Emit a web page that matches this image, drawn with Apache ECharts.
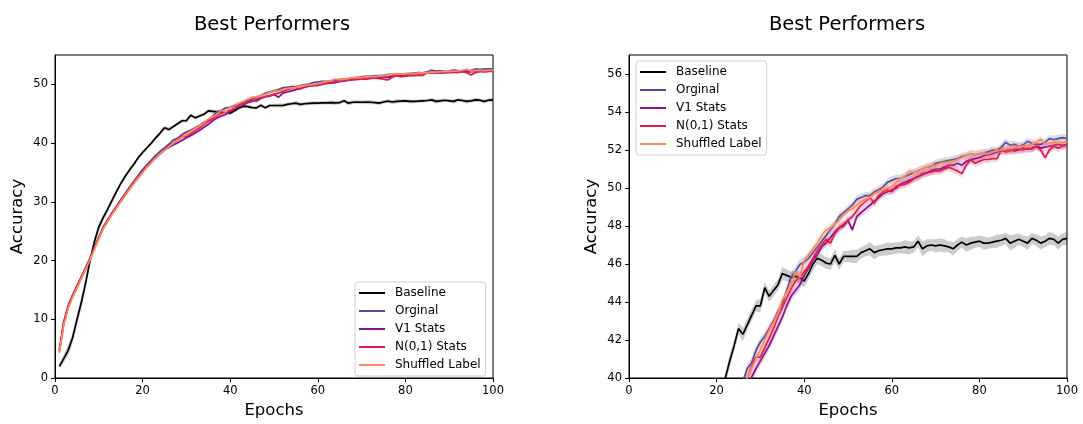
<!DOCTYPE html>
<html>
<head>
<meta charset="utf-8">
<script src="https://cdn.jsdelivr.net/npm/echarts@6/dist/echarts.min.js"></script>
<style>
html,body{margin:0;padding:0;background:#fff;}
#chart{width:1083px;height:424px;}
</style>
</head>
<body>
<div id="chart"></div>
<script>
const seriesNames = ['Baseline', 'Orginal', 'V1 Stats', 'N(0,1) Stats', 'Shuffled Label'];
const titleText = 'Best Performers';
const xTicks = [0, 20, 40, 60, 80, 100];
const yTicksLeft = [0, 10, 20, 30, 40, 50];
const yTicksRight = [40, 42, 44, 46, 48, 50, 52, 54, 56];

const baseline = [
 2.0, 3.3, 4.7, 6.8, 9.9, 12.8, 16.2, 20.0, 23.2, 25.7,
 27.3, 28.7, 30.2, 31.7, 33.1, 34.3, 35.4, 36.4, 37.5, 38.4,
 39.2, 40.0, 40.9, 41.7, 42.6, 42.3, 42.8, 43.3, 43.8, 43.8,
 44.75, 44.3, 44.6, 44.9, 45.5, 45.4, 45.3, 45.35, 45.3, 45.1,
 45.5, 46.0, 46.3, 46.2, 46.05, 46.0, 46.45, 46.0, 46.4, 46.4,
 46.4, 46.4, 46.6, 46.7, 46.8, 46.6, 46.7, 46.75, 46.8, 46.8,
 46.85, 46.85, 46.9, 46.85, 46.9, 47.2, 46.8, 46.95, 47.0, 46.95,
 47.0, 46.95, 46.9, 46.8, 47.0, 47.15, 47.0, 47.1, 47.15, 47.2,
 47.1, 47.1, 47.15, 47.2, 47.25, 47.35, 47.1, 47.2, 47.3, 47.2,
 47.1, 47.35, 47.25, 47.1, 47.2, 47.35, 47.3, 47.1, 47.3, 47.35
];
const orginal = [
 4.8, 9.5, 12.2, 14.0, 15.6, 17.2, 18.8, 20.4, 22.2, 24.0,
 25.7, 26.9, 28.1, 29.2, 30.3, 31.4, 32.5, 33.5, 34.5, 35.5,
 36.3, 37.1, 37.9, 38.6, 39.2, 39.8, 40.5, 40.8, 41.45, 41.9,
 42.2, 42.6, 43.0, 43.5, 43.9, 44.6, 45.3, 45.6, 45.97, 46.1,
 46.3, 46.6, 46.9, 47.2, 47.5, 47.8, 48.1, 48.5, 48.7, 48.9,
 49.1, 49.4, 49.5, 49.6, 49.6, 49.8, 49.9, 50.06, 50.3, 50.4,
 50.5, 50.5, 50.6, 50.7, 50.8, 50.9, 51.0, 51.1, 51.15, 51.3,
 51.35, 51.4, 51.45, 51.5, 51.55, 51.65, 51.7, 51.8, 51.75, 51.8,
 51.85, 51.9, 52.0, 51.95, 52.15, 52.4, 52.25, 52.3, 52.2, 52.27,
 52.45, 52.35, 52.3, 52.3, 52.4, 52.6, 52.55, 52.6, 52.65, 52.6
];
const v1Stats = [
 4.5, 9.2, 12.0, 13.9, 15.4, 17.0, 18.5, 20.2, 22.0, 23.8,
 25.5, 26.7, 27.9, 29.0, 30.1, 31.1, 32.2, 33.2, 34.1, 35.1,
 36.0, 36.8, 37.5, 38.2, 38.8, 39.3, 39.7, 40.05, 40.5, 40.9,
 41.3, 41.7, 42.2, 42.7, 43.2, 43.8, 44.3, 44.6, 44.9, 45.4,
 45.8, 46.2, 46.5, 46.9, 47.1, 47.4, 47.7, 47.9, 48.0, 48.3,
 47.8, 48.5, 48.7, 48.9, 49.1, 49.3, 49.5, 49.7, 49.8, 49.9,
 50.0, 50.2, 50.3, 50.4, 50.5, 50.6, 50.7, 50.8, 50.9, 51.0,
 51.0, 51.1, 51.2, 51.2, 51.3, 51.2, 51.4, 51.5, 51.55, 51.6,
 51.7, 51.75, 51.8, 51.9, 51.95, 52.0, 52.0, 51.95, 52.0, 52.1,
 52.05, 52.1, 52.2, 52.1, 52.15, 52.2, 52.25, 52.3, 52.25, 52.3
];
const n01Stats = [
 4.6, 9.6, 12.3, 14.1, 15.7, 17.2, 18.7, 20.3, 22.1, 23.9,
 25.6, 26.8, 28.0, 29.1, 30.2, 31.2, 32.3, 33.3, 34.3, 35.2,
 36.1, 36.9, 37.6, 38.3, 38.9, 39.5, 40.0, 40.6, 41.1, 41.1,
 41.6, 42.1, 42.6, 43.2, 43.7, 44.2, 44.7, 45.1, 45.3, 45.6,
 45.9, 46.3, 46.7, 47.0, 47.3, 47.1, 47.6, 47.9, 48.1, 48.3,
 48.5, 48.8, 49.1, 49.3, 49.5, 49.2, 49.6, 49.8, 49.9, 49.8,
 50.1, 50.15, 50.2, 50.3, 50.5, 50.6, 50.76, 50.8, 50.85, 50.9,
 50.9, 51.0, 51.1, 51.0, 50.9, 50.76, 51.2, 51.5, 51.3, 51.4,
 51.5, 51.5, 51.55, 51.54, 52.0, 51.9, 51.95, 52.05, 52.05, 52.0,
 52.1, 52.05, 52.2, 52.0, 51.6, 52.0, 52.2, 52.1, 52.2, 52.25
];
const shuffledLabel = [
 4.3, 9.0, 11.8, 13.7, 15.3, 16.9, 18.5, 20.1, 21.9, 23.7,
 25.4, 26.6, 27.8, 28.9, 30.0, 31.1, 32.1, 33.1, 34.1, 35.0,
 35.9, 36.7, 37.5, 38.2, 38.8, 39.4, 40.0, 40.5, 41.0, 41.5,
 42.0, 42.5, 42.9, 43.4, 44.1, 44.5, 44.9, 45.6, 45.3, 46.2,
 46.5, 46.8, 47.1, 47.5, 47.8, 47.9, 48.1, 48.3, 48.6, 48.8,
 48.9, 49.1, 49.3, 49.4, 49.5, 49.7, 49.8, 49.9, 50.0, 50.1,
 50.3, 50.5, 50.6, 50.9, 50.8, 50.9, 51.0, 51.1, 51.2, 51.15,
 51.3, 51.35, 51.3, 51.4, 51.5, 51.6, 51.7, 51.8, 51.75, 51.8,
 51.85, 51.8, 51.9, 51.95, 52.0, 52.05, 52.1, 52.15, 52.2, 52.2,
 52.25, 52.3, 52.4, 52.58, 52.3, 52.35, 52.4, 52.35, 52.4, 52.4
];
const baselineStd = [
 0.5, 0.7, 0.9, 1.0, 1.1, 1.1, 1.0, 0.9, 0.8, 0.7,
 0.6, 0.5, 0.5, 0.45, 0.4, 0.4, 0.4, 0.35, 0.35, 0.35,
 0.3, 0.3, 0.35, 0.3, 0.3, 0.35, 0.3, 0.3, 0.3, 0.35,
 0.3, 0.3, 0.3, 0.3, 0.35, 0.3, 0.3, 0.3, 0.3, 0.35,
 0.3, 0.35, 0.3, 0.3, 0.3, 0.3, 0.35, 0.3, 0.3, 0.3,
 0.35, 0.35, 0.3, 0.3, 0.35, 0.35, 0.3, 0.3, 0.35, 0.3,
 0.3, 0.3, 0.35, 0.35, 0.3, 0.3, 0.4, 0.35, 0.3, 0.35,
 0.35, 0.35, 0.3, 0.35, 0.3, 0.3, 0.35, 0.35, 0.3, 0.3,
 0.35, 0.3, 0.3, 0.35, 0.3, 0.3, 0.4, 0.35, 0.3, 0.3,
 0.35, 0.3, 0.3, 0.35, 0.3, 0.35, 0.3, 0.35, 0.3, 0.35
];
const groupStd = [
 0.6, 0.5, 0.45, 0.4, 0.35, 0.3, 0.3, 0.3, 0.3, 0.3,
 0.25, 0.25, 0.25, 0.25, 0.25, 0.25, 0.25, 0.25, 0.25, 0.25,
 0.25, 0.25, 0.25, 0.25, 0.25, 0.25, 0.25, 0.3, 0.25, 0.25,
 0.25, 0.25, 0.25, 0.25, 0.25, 0.25, 0.3, 0.25, 0.3, 0.25,
 0.2, 0.2, 0.25, 0.2, 0.2, 0.25, 0.2, 0.2, 0.2, 0.2,
 0.2, 0.2, 0.2, 0.2, 0.2, 0.2, 0.2, 0.2, 0.2, 0.2,
 0.2, 0.2, 0.2, 0.2, 0.2, 0.2, 0.2, 0.2, 0.2, 0.2,
 0.2, 0.2, 0.2, 0.2, 0.2, 0.2, 0.2, 0.2, 0.2, 0.2,
 0.2, 0.2, 0.2, 0.2, 0.2, 0.2, 0.2, 0.2, 0.2, 0.2,
 0.2, 0.2, 0.2, 0.2, 0.2, 0.2, 0.2, 0.2, 0.2, 0.2
];

const colors = ['#000000', '#4f4a9c', '#8b0e8c', '#e21b4b', '#fc8a5e'];
const bandColors = ['rgba(0,0,0,0.2)', 'rgba(79,74,156,0.2)', 'rgba(139,14,140,0.2)', 'rgba(226,27,75,0.2)', 'rgba(252,138,94,0.2)'];
const allValues = [baseline, orginal, v1Stats, n01Stats, shuffledLabel];
const allStd = [baselineStd, groupStd, groupStd, groupStd, groupStd];

const epochs = baseline.map((_, i) => i + 1);
const FONT = 'DejaVu Sans';

function bandSeries(g, s) {
  const vals = allValues[s], sd = allStd[s];
  const data = vals.map((v, i) => [epochs[i], v - sd[i], v + sd[i]]);
  return {
    type: 'custom', xAxisIndex: g, yAxisIndex: g, silent: true, clip: true,
    data: data, encode: { x: 0, y: [1, 2] }, z: 2 + s * 2, animation: false,
    renderItem: function (params, api) {
      if (params.dataIndexInside !== 0) return null;
      const pts = [];
      for (let i = 0; i < data.length; i++) pts.push(api.coord([data[i][0], data[i][2]]));
      for (let i = data.length - 1; i >= 0; i--) pts.push(api.coord([data[i][0], data[i][1]]));
      const cs = params.coordSys;
      return {
        type: 'polygon', shape: { points: pts },
        style: { fill: bandColors[s], stroke: null },
        clipPath: { type: 'rect', shape: { x: cs.x, y: cs.y, width: cs.width, height: cs.height } }
      };
    }
  };
}

const series = [];
for (let g = 0; g < 2; g++) {
  for (let s = 0; s < seriesNames.length; s++) {
    const vals = allValues[s];
    series.push(bandSeries(g, s));
    series.push({
      name: seriesNames[s], type: 'line', xAxisIndex: g, yAxisIndex: g,
      data: vals.map((v, i) => [epochs[i], v]),
      symbol: 'none', color: colors[s],
      lineStyle: { color: colors[s], width: 1.7 },
      itemStyle: { color: colors[s] },
      z: 3 + s * 2, animation: false
    });
  }
}

function xAxis(g) {
  return {
    type: 'value', gridIndex: g, min: 0, max: 100, interval: 20,
    name: 'Epochs', nameLocation: 'middle', nameGap: 24,
    nameTextStyle: { fontFamily: FONT, fontSize: 16.5, color: '#000' },
    axisLine: { show: true, onZero: false, lineStyle: { color: '#000', width: 1 } },
    axisTick: { show: true, length: 4, lineStyle: { color: '#000' } },
    axisLabel: { fontFamily: FONT, fontSize: 11.5, color: '#000', margin: 7 },
    splitLine: { show: false }
  };
}
function yAxis(g, min, max, interval, ticks) {
  return {
    type: 'value', gridIndex: g, min: min, max: max, interval: interval,
    name: 'Accuracy', nameLocation: 'middle', nameGap: 29,
    nameTextStyle: { fontFamily: FONT, fontSize: 16.5, color: '#000' },
    axisLine: { show: true, onZero: false, lineStyle: { color: '#000', width: 1 } },
    axisTick: { show: true, length: 4, lineStyle: { color: '#000' }, customValues: ticks },
    axisLabel: { fontFamily: FONT, fontSize: 11.5, color: '#000', margin: 7, customValues: ticks },
    splitLine: { show: false }
  };
}
function legend(left, top) {
  return {
    data: seriesNames, orient: 'vertical', left: left, top: top,
    icon: 'rect', itemWidth: 26, itemHeight: 2, itemGap: 4,
    padding: [4, 5, 4, 4],
    backgroundColor: 'rgba(255,255,255,0.85)', borderColor: '#d0d0d0', borderWidth: 1, borderRadius: 3,
    textStyle: { fontFamily: FONT, fontSize: 12, color: '#000', lineHeight: 14, padding: [0, 0, 0, 5] },
    selectedMode: false, z: 20
  };
}

const option = {
  backgroundColor: '#fff',
  animation: false,
  title: [
    { text: titleText, left: 267, top: 10, textAlign: 'center', textStyle: { fontFamily: FONT, fontSize: 19.5, fontWeight: 'normal', color: '#000' } },
    { text: titleText, left: 842, top: 10, textAlign: 'center', textStyle: { fontFamily: FONT, fontSize: 19.5, fontWeight: 'normal', color: '#000' } }
  ],
  grid: [
    { left: 55, right: 590, top: 55, bottom: 43, show: true, borderColor: '#000', borderWidth: 1, backgroundColor: 'transparent' },
    { left: 629, right: 16, top: 55, bottom: 43, show: true, borderColor: '#000', borderWidth: 1, backgroundColor: 'transparent' }
  ],
  xAxis: [xAxis(0), xAxis(1)],
  yAxis: [yAxis(0, 0, 55, 10, yTicksLeft), yAxis(1, 40, 57, 2, yTicksRight)],
  legend: [legend(355, 282), legend(636, 61)],
  series: series
};

const chart = echarts.init(document.getElementById('chart'), null, { renderer: 'canvas' });
chart.setOption(option);
</script>
</body>
</html>
